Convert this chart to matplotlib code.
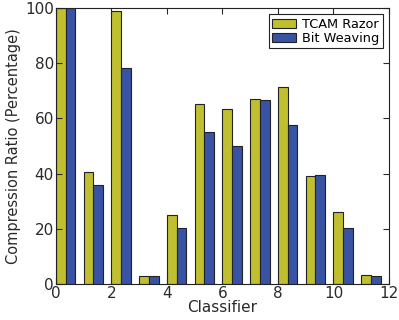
import matplotlib
matplotlib.use("Agg")
import matplotlib.pyplot as plt
import numpy as np

classifiers = list(range(12))
tcam_razor = [100, 40.5, 98.9, 2.8, 24.9, 65.1, 63.4, 67.0, 71.3, 39.1, 26.1, 3.3]
bit_weaving = [100, 35.9, 78.1, 2.8, 20.4, 55.1, 50.0, 66.8, 57.7, 39.4, 20.2, 3.0]

fig = plt.figure(figsize=(3.99, 3.2), dpi=100)
ax = fig.add_axes([0.140, 0.1125, 0.835, 0.8625])
x = np.array(classifiers)
w = 0.35
ax.bar(x, tcam_razor, w, align='edge', color='#bfbf30', edgecolor='#222222', linewidth=0.8, label='TCAM Razor')
ax.bar(x + w, bit_weaving, w, align='edge', color='#3853a4', edgecolor='#222222', linewidth=0.8, label='Bit Weaving')
ax.set_xlim(0, 12)
ax.set_ylim(0, 100)
ax.set_xticks([0, 2, 4, 6, 8, 10, 12])
ax.set_yticks([0, 20, 40, 60, 80, 100])
ax.tick_params(direction='in', top=True, right=True, labelsize=11, colors='#2a2a2a', length=4, pad=1.5)
ax.set_xlabel('Classifier', fontsize=11, labelpad=-1, color='#2a2a2a')
ax.set_ylabel('Compression Ratio (Percentage)', fontsize=10.5, color='#2a2a2a', labelpad=3)
leg = ax.legend(loc='upper right', fontsize=9.3, fancybox=False, framealpha=1, edgecolor='#222222',
                handlelength=1.8, handleheight=0.7, borderpad=0.25, labelspacing=0.1,
                borderaxespad=0.5, handletextpad=0.5)
leg.get_frame().set_linewidth(0.8)
for s in ax.spines.values():
    s.set_color('#222222')
fig.savefig('out.png', dpi=100)
